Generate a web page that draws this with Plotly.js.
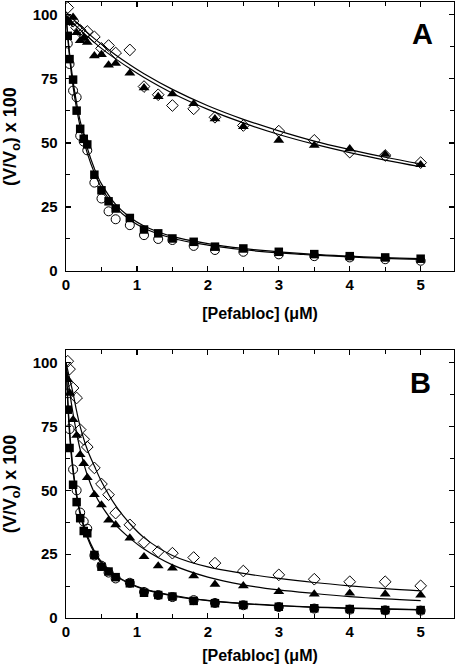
<!DOCTYPE html>
<html>
<head>
<meta charset="utf-8">
<script src="https://cdn.plot.ly/plotly-3.0.1.min.js"></script>
<style>html,body{margin:0;padding:0;background:#fff;}#chart{width:458px;height:672px;}</style>
</head>
<body>
<div id="chart"></div>
<script>
// Pefabloc concentrations (µM)
const xConc = [0.025,0.05,0.1,0.15,0.2,0.25,0.3,0.4,0.5,0.6,0.7,0.9,1.1,1.3,1.5,1.8,2.1,2.5,3,3.5,4,4.5,5];

// Panel A measured values, (V/Vo) x 100
const aSquares   = [91.8,82.7,74.7,62.6,55.5,51.6,49.4,37.6,31.5,27.2,24.4,20.7,16.2,14.7,12.7,11.4,9.5,8.8,7.5,6.6,5.8,5.3,4.8];
const aCircles   = [88.8,80.8,70.4,67.8,52.8,50.5,47.1,34.5,28.3,23.3,20.2,17.9,14.0,12.5,12.1,9.8,8.2,7.5,6.5,5.8,5.3,4.6,4.0];
const aTriangles = [98.0,97.0,99.0,93.0,89.9,91.0,89.2,84.0,84.5,80.4,81.0,77.2,71.5,68.1,69.1,65.3,59.4,56.4,51.0,49.0,47.7,45.5,41.5];
const aDiamonds  = [102.8,98.0,97.5,95.0,94.0,92.0,93.5,91.4,86.9,88.0,85.1,86.3,72.0,68.8,64.6,63.3,60.0,56.8,54.6,51.0,46.4,45.1,42.3];

// Panel B measured values
const bSquares   = [81.6,66.6,52.2,45.4,39.1,34.1,33.2,24.7,20.1,18.2,16.0,13.6,9.9,9.0,8.4,6.7,5.8,5.1,4.4,3.8,3.5,3.1,3.1];
const bCircles   = [88.0,74.0,58.2,50.0,41.3,37.8,35.0,24.5,20.5,17.8,15.5,13.8,10.2,9.0,8.2,7.0,5.9,5.0,4.3,3.7,3.3,3.0,2.9];
const bTriangles = [93.4,88.0,77.7,71.5,64.0,60.5,55.0,48.3,44.3,38.3,36.5,31.3,24.0,20.4,19.5,16.5,13.2,12.6,10.3,9.4,9.7,9.4,9.0];
const bDiamonds  = [100.6,97.5,90.1,86.2,73.8,70.0,67.0,58.8,52.5,48.3,41.1,36.5,29.6,26.0,25.4,23.7,21.5,18.4,16.9,15.2,14.2,14.2,12.6];

// Fitted curves, values
const fitX = [0,0.05,0.1,0.15,0.2,0.3,0.4,0.5,0.7,0.9,1.1,1.5,2,2.5,3,3.5,4,4.5,5];
const aFitSquares   = [100,85,74,65.5,58.5,48,40,34,26,21,17.6,13.5,10.7,8.8,7.5,6.5,5.8,5.2,4.8];
const aFitCircles   = [100,83.5,72,63.3,56.3,46,38.3,32.5,24.8,20,16.7,12.8,10.1,8.3,7.1,6.2,5.5,4.9,4.5];
const aFitDiamonds  = [101,99.7,98.3,96.9,95.6,93.1,90.7,88.5,84.3,80.5,77,70.9,64.5,59.2,54.7,50.7,47.4,44.4,41.8];
const aFitTriangles = [99.5,98.1,96.8,95.4,94.1,91.6,89.2,86.9,82.8,79,75.5,69.4,63.1,57.8,53.3,49.5,46.2,43.3,40.7];
const bFitSquares   = [100,72,57,47.5,40.5,31.5,25.5,21.5,16.5,13.3,11.2,8.7,6.8,5.6,4.8,4.2,3.8,3.5,3.2];
const bFitCircles   = [100,74,58.5,48.5,41.5,32.3,26.2,22,16.8,13.6,11.4,8.9,6.9,5.7,4.9,4.3,3.9,3.6,3.3];
const bFitTriangles = [100,89,80,72.5,66,56,49,44,36.5,31.3,27,20.8,16,13,11,9.6,8.4,7.5,6.8];
const bFitDiamonds  = [100,94,88,81,75,66,59.5,53.5,44,37,31.5,24.5,20,17.5,15.5,13.9,12.6,11.5,10.6];

const panelLabels = ['A','B'];
const xTitle = '[Pefabloc] (\u03bcM)';
const yTitle = '(V/V<sub>o</sub>) x 100';

const FONT = 'Liberation Sans, Arial, Helvetica, sans-serif';

function markers(y, sym, size, xa, ya) {
  const open = sym.indexOf('open') >= 0;
  return {
    x: xConc, y: y, xaxis: xa, yaxis: ya, type: 'scatter', mode: 'markers',
    marker: {symbol: sym, size: size, color: '#000',
             line: {color: '#000', width: open ? 1 : 0}},
    showlegend: false, hoverinfo: 'skip'
  };
}
function fit(y, xa, ya) {
  return {
    x: fitX, y: y, xaxis: xa, yaxis: ya, type: 'scatter', mode: 'lines',
    line: {color: '#000', width: 1.2, shape: 'spline', smoothing: 1},
    showlegend: false, hoverinfo: 'skip'
  };
}

const data = [
  markers(aDiamonds, 'diamond-open', 9, 'x', 'y'),
  markers(aTriangles, 'triangle-up', 9.5, 'x', 'y'),
  markers(aCircles, 'circle-open', 9, 'x', 'y'),
  markers(aSquares, 'square', 8.5, 'x', 'y'),
  fit(aFitDiamonds, 'x', 'y'),
  fit(aFitTriangles, 'x', 'y'),
  fit(aFitSquares, 'x', 'y'),
  fit(aFitCircles, 'x', 'y'),
  markers(bDiamonds, 'diamond-open', 9, 'x2', 'y2'),
  markers(bTriangles, 'triangle-up', 9.5, 'x2', 'y2'),
  markers(bCircles, 'circle-open', 9, 'x2', 'y2'),
  markers(bSquares, 'square', 8.5, 'x2', 'y2'),
  fit(bFitDiamonds, 'x2', 'y2'),
  fit(bFitTriangles, 'x2', 'y2'),
  fit(bFitSquares, 'x2', 'y2'),
  fit(bFitCircles, 'x2', 'y2')
];

const tickFont = {family: FONT, size: 15, weight: 'bold', color: '#000'};
const titleFont = {family: FONT, size: 16, weight: 'bold', color: '#000'};

function xAxis(anchor, standoff) {
  return {
    domain: [0, 1], anchor: anchor, range: [0, 5.47],
    showline: true, linecolor: '#000', linewidth: 1.3, mirror: 'ticks',
    ticks: 'inside', ticklen: 5, tickwidth: 1.2, tickcolor: '#000',
    tick0: 0, dtick: 1,
    minor: {ticks: 'inside', dtick: 0.5, ticklen: 4, tickwidth: 1, tickcolor: '#000'},
    showgrid: false, zeroline: false, tickfont: tickFont,
    title: {text: xTitle, font: titleFont, standoff: standoff}
  };
}
function yAxis(anchor, domain) {
  return {
    domain: domain, anchor: anchor, range: [0, 105],
    showline: true, linecolor: '#000', linewidth: 1.3, mirror: 'ticks',
    ticks: 'inside', ticklen: 5, tickwidth: 1.2, tickcolor: '#000',
    tick0: 0, dtick: 25, ticklabelstandoff: 4,
    minor: {ticks: 'inside', dtick: 12.5, ticklen: 4, tickwidth: 1, tickcolor: '#000'},
    showgrid: false, zeroline: false, tickfont: tickFont,
    title: {text: yTitle, font: {family: FONT, size: 18, weight: 'bold', color: '#000'}, standoff: 14}
  };
}

const layout = {
  width: 458, height: 672,
  margin: {l: 66, r: 4, t: 2, b: 54},
  paper_bgcolor: '#fff', plot_bgcolor: '#fff',
  xaxis: xAxis('y', 15),
  yaxis: yAxis('x', [0.5633, 1]),
  xaxis2: xAxis('y2', 10),
  yaxis2: yAxis('x2', [0, 0.4351]),
  annotations: [
    {text: panelLabels[0], xref: 'x', yref: 'y', x: 5.03, y: 92.5, showarrow: false,
     font: {family: FONT, size: 29, weight: 'bold', color: '#000'}},
    {text: panelLabels[1], xref: 'x2', yref: 'y2', x: 5.0, y: 92, showarrow: false,
     font: {family: FONT, size: 29, weight: 'bold', color: '#000'}}
  ]
};

Plotly.newPlot('chart', data, layout, {staticPlot: true, displayModeBar: false});
</script>
</body>
</html>
